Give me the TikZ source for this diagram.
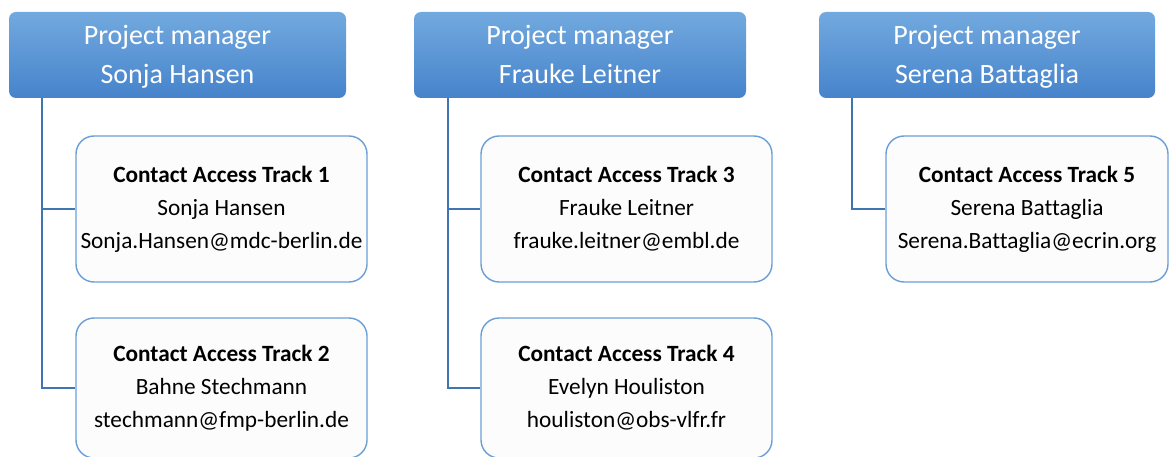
\documentclass[tikz,border=0pt]{standalone}
\usepackage{fontspec}
\setmainfont{Carlito}[Ligatures=NoCommon]
\definecolor{hdtop}{HTML}{72A9DF}
\definecolor{hdbot}{HTML}{4683CB}
\definecolor{cbord}{HTML}{6A9FD6}
\definecolor{cfill}{HTML}{FCFCFC}
\definecolor{lnk}{HTML}{3F75B0}
\begin{document}
\begin{tikzpicture}[x=1pt,y=-1pt,
  header/.style={rectangle, rounded corners=7pt, top color=hdtop, bottom color=hdbot,
    draw=none, inner sep=0pt, minimum height=86pt},
  headtext/.style={text=white, align=center, inner sep=0pt, yshift=-2pt,
    font=\fontsize{28}{39}\selectfont},
  contact/.style={rectangle, rounded corners=18pt, draw=cbord, fill=cfill, line width=1.4pt,
    align=center, inner sep=0pt, font=\fontsize{23.3}{33}\selectfont},
  link/.style={draw=lnk, line width=1.4pt}]
\useasboundingbox (0,0) rectangle (1169,457);
\node[header, minimum width=337pt] (h1) at (177.5,55) {};
\node[header, minimum width=332pt] (h2) at (580,55) {};
\node[header, minimum width=336pt] (h3) at (987,55) {};
\node[headtext] (h1t) at (h1.center) {Project manager\\Sonja Hansen\vphantom{g}};
\node[headtext] (h2t) at (h2.center) {Project manager\\Frauke Leitner\vphantom{g}};
\node[headtext] (h3t) at (h3.center) {Project manager\\Serena Battaglia\vphantom{g}};

\node[contact, minimum width=291pt, minimum height=146pt] (c1) at (221.5,209)
  {\textbf{Contact Access Track 1}\\Sonja Hansen\\Sonja.Hansen@mdc-berlin.de};
\node[contact, minimum width=291pt, minimum height=140pt] (c2) at (221.5,388)
  {\textbf{Contact Access Track 2}\\Bahne Stechmann\\stechmann@fmp-berlin.de};
\node[contact, minimum width=291pt, minimum height=146pt] (c3) at (626.5,209)
  {\textbf{Contact Access Track 3}\\Frauke Leitner\\frauke.leitner@embl.de};
\node[contact, minimum width=291pt, minimum height=140pt] (c4) at (626.5,388)
  {\textbf{Contact Access Track 4}\\Evelyn Houliston\\houliston@obs-vlfr.fr};
\node[contact, minimum width=282pt, minimum height=146pt] (c5) at (1027,209)
  {\textbf{Contact Access Track 5}\\Serena Battaglia\\Serena.Battaglia@ecrin.org};

\draw[link] ([xshift=33pt]h1.south west) |- (c1.west);
\draw[link] ([xshift=33pt]h1.south west) |- (c2.west);
\draw[link] ([xshift=34pt]h2.south west) |- (c3.west);
\draw[link] ([xshift=34pt]h2.south west) |- (c4.west);
\draw[link] ([xshift=33pt]h3.south west) |- (c5.west);
\end{tikzpicture}
\end{document}
